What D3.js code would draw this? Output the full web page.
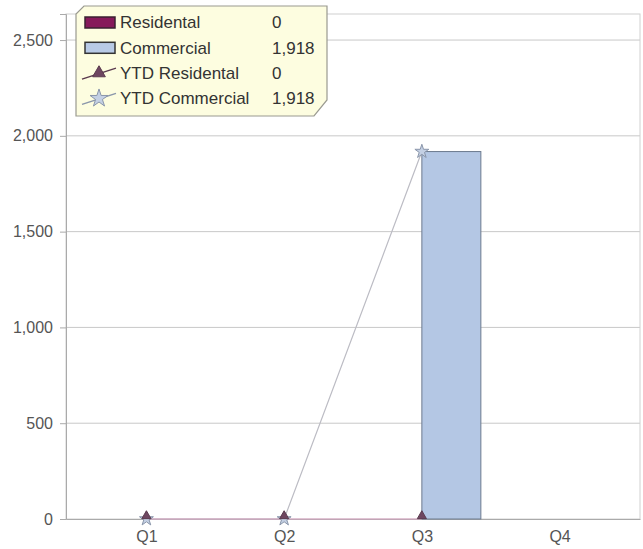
<!DOCTYPE html>
<html>
<head>
<meta charset="utf-8">
<script src="https://cdn.jsdelivr.net/npm/d3@7"></script>
<style>
  body { margin: 0; background: #fff; }
  text { font-family: "Liberation Sans", Arial, sans-serif; }
</style>
</head>
<body>
<svg width="643" height="549"></svg>
<script>
// data
var quarters = ["Q1", "Q2", "Q3", "Q4"];
var residental = [0, 0, 0, null];
var commercial = [0, 0, 1918, null];
var ytdResidental = [0, 0, 0, null];
var ytdCommercial = [0, 0, 1918, null];
var yTicks = [0, 500, 1000, 1500, 2000, 2500];
var legendItems = [
  { name: "Residental", value: "0", kind: "bar", fill: "#86195a", stroke: "#3a2030" },
  { name: "Commercial", value: "1,918", kind: "bar", fill: "#b8cae6", stroke: "#333" },
  { name: "YTD Residental", value: "0", kind: "tri", fill: "#6e4660", stroke: "#5a3a4e" },
  { name: "YTD Commercial", value: "1,918", kind: "star", fill: "#c4d0e4", stroke: "#8a96aa" }
];

var svg = d3.select("svg");
var margin = { left: 66, top: 14, right: 3, bottom: 30 };
var width = 643 - margin.left - margin.right,
    height = 549 - margin.top - margin.bottom;

var g = svg.append("g").attr("transform", "translate(" + margin.left + "," + margin.top + ")");

var x = d3.scalePoint().domain(quarters).range([0, width]).padding(0.584);
var y = d3.scaleLinear().domain([0, 2636]).range([height, 0]);
var barW = 59;

// gridlines
g.append("g").selectAll("line").data(yTicks.slice(1)).enter().append("line")
    .attr("x1", 0).attr("x2", width)
    .attr("y1", function(d) { return y(d); }).attr("y2", function(d) { return y(d); })
    .attr("stroke", "#c8c8c8");

// plot border
g.append("rect").attr("width", width).attr("height", height)
    .attr("fill", "none").attr("stroke", "#d0d0d0");

// y axis
var yAxis = g.append("g").call(d3.axisLeft(y).tickValues(yTicks).tickFormat(d3.format(",")).tickSize(6).tickPadding(7));
yAxis.select(".domain").attr("stroke", "#aaa");
yAxis.selectAll("line").attr("stroke", "#aaa");
yAxis.selectAll("text").attr("fill", "#555").style("font-size", "16px");

// x axis
var xAxis = g.append("g").attr("transform", "translate(0," + height + ")")
    .call(d3.axisBottom(x).tickSize(0).tickPadding(12));
xAxis.select(".domain").attr("stroke", "#aaa");
xAxis.selectAll("text").attr("fill", "#555").style("font-size", "16px");

// bars
var barData = quarters.map(function(q, i) { return { q: q, r: residental[i], c: commercial[i] }; })
    .filter(function(d) { return d.c != null; });
g.append("g").selectAll("rect.c").data(barData.filter(function(d) { return d.c > 0; })).enter().append("rect")
    .attr("x", function(d) { return x(d.q); })
    .attr("y", function(d) { return y(d.c); })
    .attr("width", barW)
    .attr("height", function(d) { return y(0) - y(d.c); })
    .attr("fill", "#b4c7e4").attr("stroke", "#6c7a8e");

// lines
function pts(arr) {
  return quarters.map(function(q, i) { return { q: q, v: arr[i] }; }).filter(function(d) { return d.v != null; });
}
var line = d3.line().x(function(d) { return x(d.q); }).y(function(d) { return y(d.v); });

g.append("path").datum(pts(ytdCommercial)).attr("d", line)
    .attr("fill", "none").attr("stroke", "#bcbcc4").attr("stroke-width", 1.2);
g.append("path").datum(pts(ytdResidental)).attr("d", line)
    .attr("fill", "none").attr("stroke", "#d8a0c0").attr("stroke-width", 1);

var star = d3.symbol().type(d3.symbolStar).size(60);
var tri = d3.symbol().type(d3.symbolTriangle).size(36);

g.append("g").selectAll("path").data(pts(ytdCommercial)).enter().append("path")
    .attr("d", star)
    .attr("transform", function(d) { return "translate(" + x(d.q) + "," + y(d.v) + ")"; })
    .attr("fill", "#c4d0e4").attr("stroke", "#8a96aa");
g.append("g").selectAll("path").data(pts(ytdResidental)).enter().append("path")
    .attr("d", tri)
    .attr("transform", function(d) { return "translate(" + x(d.q) + "," + (y(d.v) - 3) + ")"; })
    .attr("fill", "#6e4660").attr("stroke", "#5a3a4e");

// legend
var lg = svg.append("g").attr("transform", "translate(76,6)");
lg.append("path")
    .attr("d", "M8,0 H251 V94 L238,110 H0 V8 Z")
    .attr("fill", "#fdfde0").attr("stroke", "#9a9a90").attr("stroke-width", 1.2);

var row = lg.selectAll("g.item").data(legendItems).enter().append("g")
    .attr("transform", function(d, i) { return "translate(0," + (16.5 + i * 25.3) + ")"; });

row.each(function(d) {
  var s = d3.select(this);
  if (d.kind === "bar") {
    s.append("rect").attr("x", 9).attr("y", -5.5).attr("width", 30).attr("height", 11)
      .attr("fill", d.fill).attr("stroke", d.stroke).attr("stroke-width", 1.5);
  } else {
    s.append("line").attr("x1", 6).attr("y1", 6).attr("x2", 40).attr("y2", -5)
      .attr("stroke", d.stroke).attr("stroke-width", 1.5);
    s.append("path").attr("d", d.kind === "tri" ? d3.symbol().type(d3.symbolTriangle).size(70) : d3.symbol().type(d3.symbolStar).size(100))
      .attr("transform", "translate(23,0)")
      .attr("fill", d.fill).attr("stroke", d.stroke);
  }
});
row.append("text").attr("x", 44).attr("dy", "0.35em").text(function(d) { return d.name; })
    .attr("fill", "#333").style("font-size", "17px");
row.append("text").attr("x", 196).attr("dy", "0.35em").text(function(d) { return d.value; })
    .attr("fill", "#333").style("font-size", "17px");
</script>
</body>
</html>
